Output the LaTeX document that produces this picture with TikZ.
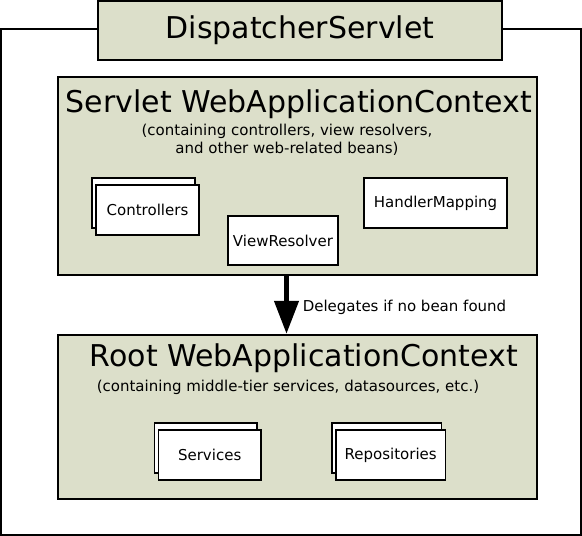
\documentclass[tikz,border=0pt]{standalone}
\usepackage{fontspec}
\setmainfont{DejaVu Sans}
\usepackage{tikz}
\usetikzlibrary{arrows.meta,shadows}
\definecolor{ctxfill}{RGB}{220,223,202}
\tikzset{
  ctx/.style={draw,line width=2.5pt,fill=ctxfill},
  big/.style={font=\fontsize{30}{36}\selectfont,inner sep=0pt},
  small/.style={font=\fontsize{15}{18}\selectfont,align=center,inner sep=0pt},
  bean/.style={draw,line width=1.2pt,fill=white,minimum height=50pt,font=\fontsize{15}{18}\selectfont},
  beans/.style={bean,copy shadow={shadow xshift=-4pt,shadow yshift=7pt,fill=white,draw=black,line width=1.2pt}}
}
\begin{document}
\begin{tikzpicture}[x=1pt,y=-1pt]
%\draw[help lines,step=10](0,0)grid(582,536);
\useasboundingbox (0,0) rectangle (582,536);
\draw[line width=2pt] (1,29) rectangle (581,535);
\node[ctx,minimum width=404pt,minimum height=59pt,big] (dispatcher) at (300,30.5) {DispatcherServlet};

% servlet context
\node[ctx,minimum width=479pt,minimum height=198pt] (servletctx) at (297.5,176) {};
\node[big] (servlettitle) at (299,104) {Servlet WebApplicationContext};
\node[small] (servletnote) at (287,140) {(containing controllers, view resolvers,\\and other web-related beans)};
\node[beans,minimum width=103pt] (controllers) at (147.5,210) {Controllers};
\node[bean,minimum width=110pt,minimum height=49pt] (viewresolver) at (283,240.5) {ViewResolver};
\node[bean,minimum width=143pt] (handlermapping) at (435.5,203) {HandlerMapping};

% root context
\node[ctx,minimum width=479pt,minimum height=164pt] (rootctx) at (297.5,417) {};
\node[big] (roottitle) at (304,358) {Root WebApplicationContext};
\node[small] (rootnote) at (288,387.5) {(containing middle-tier services, datasources, etc.)};
\node[beans,minimum width=102.5pt] (services) at (209.7,455) {Services};
\node[beans,minimum width=109.5pt] (repositories) at (390.7,455) {Repositories};

\draw[line width=4.5pt,-{Triangle[length=33pt,width=24pt]}] ([xshift=-11pt]servletctx.south) -- ([xshift=-11pt]rootctx.north)
  node[midway,right=14pt,yshift=-2pt,small] (delegates) {Delegates if no bean found};
\end{tikzpicture}
\end{document}
